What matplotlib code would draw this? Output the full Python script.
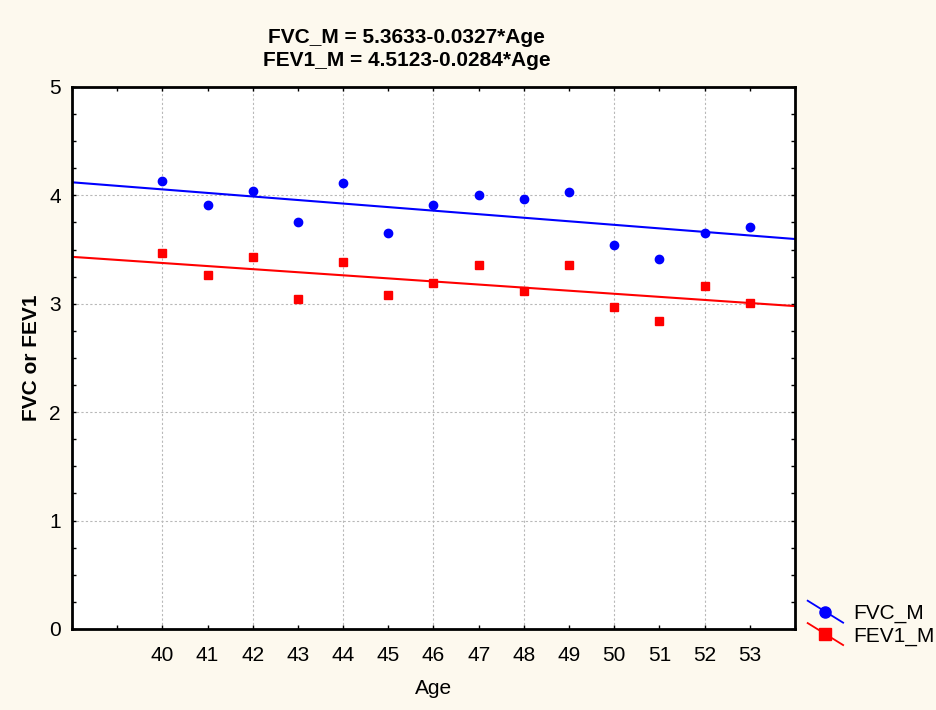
import matplotlib
matplotlib.use('Agg')
import matplotlib.pyplot as plt
import numpy as np
from matplotlib.legend_handler import HandlerLine2D
from matplotlib.lines import Line2D
from matplotlib.ticker import MultipleLocator

plt.rcParams['font.family'] = ['Liberation Sans', 'DejaVu Sans']

# Données
age = [40, 41, 42, 43, 44, 45, 46, 47, 48, 49, 50, 51, 52, 53]
fvc_m = [4.13, 3.91, 4.04, 3.75, 4.11, 3.65, 3.91, 4.00, 3.97, 4.03, 3.54, 3.41, 3.65, 3.71]
fev1_m = [3.47, 3.27, 3.43, 3.04, 3.39, 3.08, 3.19, 3.36, 3.12, 3.36, 2.97, 2.84, 3.16, 3.01]
fvc_coef = (5.3633, -0.0327)
fev1_coef = (4.5123, -0.0284)
x_fit = [38, 54]

bg = '#fdf9ee'


# Légende avec trait incliné (style Statistica)
class SlantHandler(HandlerLine2D):
    def create_artists(self, legend, orig_handle, xdescent, ydescent, width, height, fontsize, trans):
        line = Line2D([0, width], [height / 2 + 0.5 * width * 0.62, height / 2 - 0.5 * width * 0.62],
                      color=orig_handle.get_color(), lw=orig_handle.get_linewidth())
        mk = Line2D([width / 2], [height / 2], marker=orig_handle.get_marker(),
                    markersize=orig_handle.get_markersize(), color=orig_handle.get_color(), linestyle='none')
        line.set_transform(trans)
        mk.set_transform(trans)
        return [line, mk]


fig = plt.figure(figsize=(9.37, 7.10), dpi=100, facecolor=bg)
ax = fig.add_axes([0.0768, 0.1141, 0.7716, 0.7634])
ax.set_facecolor('white')

xs = np.array(x_fit)
ax.plot(xs, fvc_coef[0] + fvc_coef[1] * xs, color='blue', lw=1.5, zorder=2)
ax.plot(xs, fev1_coef[0] + fev1_coef[1] * xs, color='red', lw=1.5, zorder=2)
ax.plot(age, fvc_m, 'o', color='blue', ms=6, zorder=3)
ax.plot(age, fev1_m, 's', color='red', ms=6, zorder=3)

ax.set_xlim(38, 54)
ax.set_ylim(0, 5)
ax.set_xticks(age)
ax.set_xticklabels([str(a) for a in age])
ax.xaxis.set_minor_locator(MultipleLocator(1))
ax.yaxis.set_major_locator(MultipleLocator(1))
ax.yaxis.set_minor_locator(MultipleLocator(0.25))
ax.tick_params(which='both', direction='in', top=True, right=True, labelsize=15, length=3, width=1)
ax.tick_params(axis='x', pad=12)
ax.tick_params(axis='y', pad=8)

# grille : verticales aux âges pairs, horizontales aux entiers
for a in age:
    if a % 2 == 0:
        ax.axvline(a, color='#b8b8b8', lw=0.8, ls=(0, (2, 2)), zorder=1)
for yv in range(1, 5):
    ax.axhline(yv, color='#b8b8b8', lw=0.8, ls=(0, (2, 2)), zorder=1)

for s in ax.spines.values():
    s.set_linewidth(2)

ax.set_xlabel('Age', fontsize=15, labelpad=10)
ax.set_ylabel('FVC or FEV1', fontsize=15, fontweight='bold', labelpad=6)
ax.set_title('FVC_M = 5.3633-0.0327*Age\nFEV1_M = 4.5123-0.0284*Age',
             fontsize=15, fontweight='bold', pad=15, linespacing=1.25, x=0.463)

h1 = Line2D([], [], color='blue', marker='o', ms=8, lw=1.3)
h2 = Line2D([], [], color='red', marker='s', ms=8, lw=1.3)
fig.legend([h1, h2], ['FVC_M', 'FEV1_M'], loc='center left', bbox_to_anchor=(0.862, 0.12),
           frameon=False, fontsize=15, handlelength=1.7, handletextpad=0.5, labelspacing=0.15,
           borderpad=0, borderaxespad=0,
           handler_map={Line2D: SlantHandler()})

fig.savefig('out.png', dpi=100, facecolor=bg)
